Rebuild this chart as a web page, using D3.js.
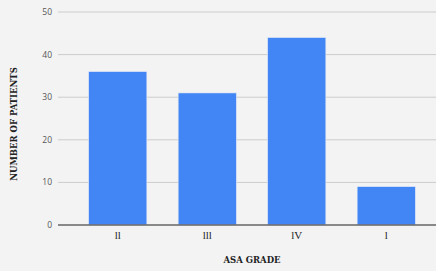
<!DOCTYPE html>
<html>
<head>
<meta charset="utf-8">
<script src="https://cdn.jsdelivr.net/npm/d3@7"></script>
<style>
  body { margin: 0; background: #f3f3f3; }
  svg { display: block; }
</style>
</head>
<body>
<div id="chart"></div>
<script>
// chart data
const grades = ["ll", "lll", "lV", "l"];
const patients = [36, 31, 44, 9];
const yTicks = [0, 10, 20, 30, 40, 50];

const width = 436, height = 271;
const axisLeft = 58, plotRight = 436;

const svg = d3.select("#chart").append("svg")
  .attr("width", width)
  .attr("height", height);

svg.append("rect")
  .attr("width", width).attr("height", height)
  .attr("fill", "#f3f3f3");

const x = d3.scaleBand()
  .domain(grades)
  .range([73, 431])
  .paddingInner(0.35)
  .paddingOuter(0.175);

const y = d3.scaleLinear()
  .domain([0, 50])
  .range([225, 12]);

// gridlines
svg.append("g")
  .selectAll("line")
  .data(yTicks.filter(d => d > 0))
  .enter().append("line")
  .attr("x1", axisLeft).attr("x2", plotRight)
  .attr("y1", d => y(d)).attr("y2", d => y(d))
  .attr("stroke", "#cccccc")
  .attr("stroke-width", 1);

// y tick labels
svg.append("g")
  .selectAll("text")
  .data(yTicks)
  .enter().append("text")
  .attr("x", 52)
  .attr("y", d => y(d))
  .attr("dy", "0.35em")
  .attr("text-anchor", "end")
  .attr("font-family", "'Open Sans', sans-serif")
  .attr("font-size", "8.5px")
  .attr("fill", "#555")
  .text(d => d);

// bars
svg.append("g")
  .selectAll("rect")
  .data(patients)
  .enter().append("rect")
  .attr("x", (d, i) => x(grades[i]))
  .attr("y", d => y(d))
  .attr("width", x.bandwidth())
  .attr("height", d => y(0) - y(d))
  .attr("fill", "#4285f4")
  .attr("stroke", "#dfe8f7")
  .attr("stroke-width", 0.6);

// baseline
svg.append("line")
  .attr("x1", axisLeft).attr("x2", plotRight)
  .attr("y1", y(0)).attr("y2", y(0))
  .attr("stroke", "#666")
  .attr("stroke-width", 1.5);

// x tick labels
svg.append("g")
  .selectAll("text")
  .data(grades)
  .enter().append("text")
  .attr("x", d => x(d) + x.bandwidth() / 2)
  .attr("y", 239)
  .attr("text-anchor", "middle")
  .attr("font-family", "'Liberation Serif', serif")
  .attr("font-size", "11px")
  .attr("fill", "#222")
  .text(d => d);

// axis titles
svg.append("text")
  .attr("x", 252)
  .attr("y", 263)
  .attr("text-anchor", "middle")
  .attr("font-family", "'DejaVu Serif', serif")
  .attr("font-weight", "bold")
  .attr("font-size", "8.5px")
  .attr("fill", "#222")
  .text("ASA GRADE");

svg.append("text")
  .attr("transform", "translate(17,124) rotate(-90)")
  .attr("text-anchor", "middle")
  .attr("font-family", "'DejaVu Serif', serif")
  .attr("font-weight", "bold")
  .attr("font-size", "8.5px")
  .attr("fill", "#222")
  .text("NUMBER OF PATIENTS");
</script>
</body>
</html>
